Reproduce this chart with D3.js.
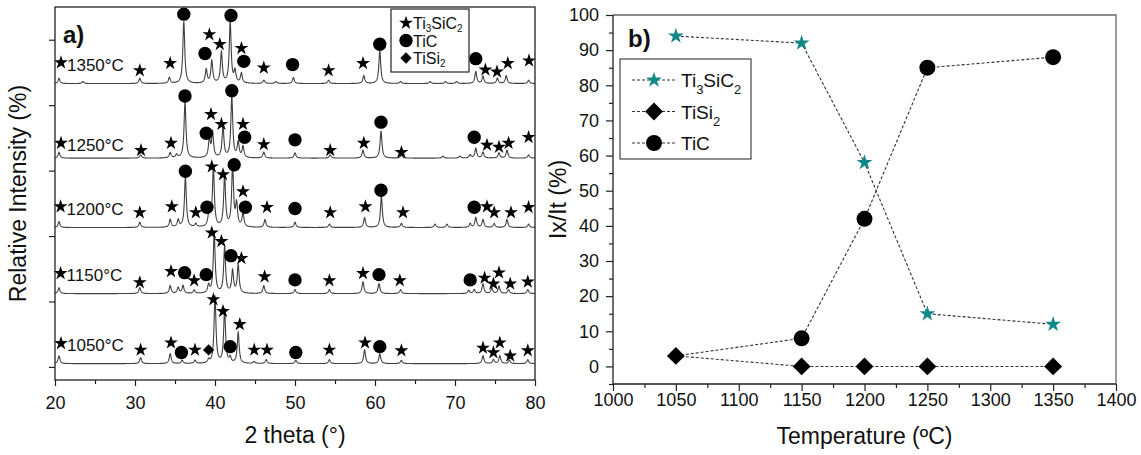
<!DOCTYPE html>
<html>
<head>
<meta charset="utf-8">
<script src="https://cdn.jsdelivr.net/npm/d3@7/dist/d3.min.js"></script>
<style>
  body { margin: 0; background: #fff; }
  svg { display: block; }
  text { font-family: "Liberation Sans", Arial, Helvetica, sans-serif; fill: #111; }
</style>
</head>
<body>
<svg id="fig" width="1141" height="455"></svg>
<script>
// ---------- a) XRD patterns: [2theta, peak height (a.u.)] ----------
const temperatureLabels = ["1050°C", "1150°C", "1200°C", "1250°C", "1350°C"];
const patternOffsets = [5, 112, 213, 319, 433];

const peaks1050 = [[20.5,12],[30.7,9],[34.4,15],[35.9,5],[37.5,5],[39.2,5],[40.0,103],[41.2,83],[41.9,8],
  [42.9,47],[44.9,3],[46.4,6],[50.1,5],[54.3,6],[58.7,21],[60.6,15],[63.3,5],[73.5,12],[74.8,6],[75.6,12],[76.8,5],[79.1,6]];
const peaks1150 = [[20.5,9],[30.6,9],[34.4,12],[35.4,9],[36.0,12],[37.4,5],[39.2,12],[39.9,92],[41.2,70],[42.2,34],
  [42.9,43],[46.1,12],[50.0,6],[54.3,6],[58.5,18],[60.5,15],[63.2,6],[71.7,5],[72.4,6],[73.5,15],[74.6,8],[75.5,11],[76.7,6],[79.1,6]];
const peaks1200 = [[20.5,9],[30.6,8],[34.4,12],[35.4,11],[36.3,77],[37.6,5],[39.3,32],[39.8,89],[41.2,77],[42.2,93],
  [42.7,34],[43.5,21],[46.25,12],[50.0,8],[54.3,5],[58.7,15],[60.8,47],[63.3,6],[67.5,5],[69.0,5],[71.9,6],[72.6,15],
  [73.5,12],[74.9,6],[76.5,12],[79.2,5]];
const peaks1250 = [[20.5,9],[30.7,5],[34.4,8],[35.2,5],[36.25,86],[39.3,28],[39.7,38],[41.0,47],[42.1,93],[42.9,23],
  [43.5,17],[46.1,9],[50.0,8],[54.4,5],[58.5,12],[60.75,41],[63.3,5],[68.5,3],[70.6,3],[71.9,5],[72.6,15],[73.5,9],
  [75.5,8],[76.5,12],[79.2,5]];
const peaks1350 = [[20.5,8],[23.5,3],[30.6,8],[34.3,9],[36.1,95],[38.9,21],[39.6,34],[40.8,47],[41.9,93],[42.5,18],
  [43.3,15],[46.1,5],[47.6,3],[49.8,9],[54.2,5],[58.6,12],[60.6,50],[63.2,3],[66.9,3],[68.8,3],[70.2,3],[72.6,18],
  [73.5,11],[75.3,8],[76.4,12],[79.2,5]];

// phase markers: [2theta, height above pattern baseline, phase]
// s = Ti3SiC2, c = TiC, d = TiSi2
const marks1050 = [[20.75,31,"s"],[30.7,21,"s"],[34.5,32,"s"],[35.8,17,"c"],[37.5,21,"s"],[39.2,21,"d"],[39.8,98,"s"],
  [41.0,80,"s"],[41.9,26,"c"],[43.1,60,"s"],[44.9,21,"s"],[46.5,21,"s"],[50.1,17,"c"],[54.3,21,"s"],[58.75,32,"s"],
  [60.6,26,"c"],[63.3,20,"s"],[73.5,24,"s"],[74.8,17,"s"],[75.6,32,"s"],[76.9,12,"s"],[79.1,20,"s"]];
const marks1150 = [[20.7,31,"s"],[30.6,17,"s"],[34.5,34,"s"],[36.2,32,"c"],[37.4,20,"s"],[38.9,29,"c"],[39.6,93,"s"],
  [40.8,80,"s"],[42.0,58,"c"],[43.3,54,"s"],[46.2,26,"s"],[50.0,21,"c"],[54.3,20,"s"],[58.5,31,"s"],[60.5,29,"c"],
  [63.1,20,"s"],[71.9,21,"c"],[73.7,24,"s"],[74.8,15,"s"],[75.5,32,"s"],[76.9,15,"s"],[79.1,18,"s"]];
const marks1200 = [[20.7,32,"s"],[30.6,23,"s"],[34.6,32,"s"],[36.3,86,"c"],[37.6,23,"s"],[39.0,31,"c"],[39.6,93,"s"],
  [41.0,81,"s"],[42.4,96,"c"],[43.5,55,"s"],[43.8,31,"c"],[46.5,31,"s"],[50.0,29,"c"],[54.4,23,"s"],[58.8,32,"s"],
  [60.75,57,"c"],[63.5,23,"s"],[72.4,31,"c"],[74.0,32,"s"],[74.9,23,"s"],[77.0,23,"s"],[79.2,31,"s"]];
const marks1250 = [[20.75,23,"s"],[30.75,12,"s"],[34.5,23,"s"],[36.25,95,"c"],[38.9,38,"c"],[39.5,67,"s"],[40.8,52,"s"],
  [42.1,103,"c"],[43.5,52,"s"],[43.7,32,"c"],[46.1,21,"s"],[50.0,28,"c"],[54.4,12,"s"],[58.6,23,"s"],[60.75,55,"c"],
  [63.3,9,"s"],[72.4,32,"c"],[74.0,20,"s"],[75.5,17,"s"],[76.7,23,"s"],[79.2,32,"s"]];
const marks1350 = [[20.75,32,"s"],[30.6,20,"s"],[34.4,31,"s"],[36.1,106,"c"],[38.75,46,"c"],[39.3,75,"s"],[40.6,60,"s"],
  [42.0,104,"c"],[43.3,54,"s"],[43.6,34,"c"],[46.1,24,"s"],[49.7,29,"c"],[54.2,20,"s"],[58.5,31,"s"],[60.6,60,"c"],
  [72.6,38,"c"],[73.8,21,"s"],[75.25,18,"s"],[76.6,31,"s"],[79.25,35,"s"]];

const xTicksA = [20, 30, 40, 50, 60, 70, 80];
const yTicksA = [0, 100, 200, 300, 400, 500];

// ---------- b) relative intensity vs temperature ----------
const temps = [1050, 1150, 1200, 1250, 1350];
const ti3sic2 = [94, 92, 58, 15, 12];
const tisi2 = [3, 0, 0, 0, 0];
const tic = [3, 8, 42, 85, 88];
const xTicksB = [1000, 1050, 1100, 1150, 1200, 1250, 1300, 1350, 1400];
const yTicksB = [0, 10, 20, 30, 40, 50, 60, 70, 80, 90, 100];

const TEAL = "#138888";
const svg = d3.select("#fig");

function symbolPath(kind, big) {
  if (kind === "s") return d3.symbol(d3.symbolStar, big ? 78 : 60)();
  if (kind === "c") return d3.symbol(d3.symbolCircle, big ? 200 : 140)();
  return d3.symbol(d3.symbolSquare, big ? 160 : 64)();
}
function drawMark(g, kind, x, y, big, color) {
  g.append("path")
    .attr("d", symbolPath(kind, big))
    .attr("transform", `translate(${x},${y})` + (kind === "d" ? " rotate(45)" : ""))
    .attr("fill", color || "#000");
}
// chemical formula with subscripts, built from tspans
function formula(textSel, parts, subSize, drop) {
  let lowered = false;
  parts.forEach(([s, sub]) => {
    const t = textSel.append("tspan").text(s);
    if (sub) { t.attr("font-size", subSize).attr("dy", drop); lowered = true; }
    else if (lowered) { t.attr("dy", -drop); lowered = false; }
  });
}

// ================= panel a =================
const A = { l: 55, r: 535, t: 7, b: 380 };
const xA = d3.scaleLinear().domain([20, 80]).range([A.l, A.r]);
const yA = d3.scaleLinear().domain([-20, 550]).range([A.b, A.t]);
const gA = svg.append("g");

svg.append("defs").append("clipPath").attr("id", "clipA")
  .append("rect").attr("x", A.l).attr("y", A.t).attr("width", A.r - A.l).attr("height", A.b - A.t);

const patterns = [
  { label: temperatureLabels[0], base: patternOffsets[0], peaks: peaks1050, marks: marks1050 },
  { label: temperatureLabels[1], base: patternOffsets[1], peaks: peaks1150, marks: marks1150 },
  { label: temperatureLabels[2], base: patternOffsets[2], peaks: peaks1200, marks: marks1200 },
  { label: temperatureLabels[3], base: patternOffsets[3], peaks: peaks1250, marks: marks1250 },
  { label: temperatureLabels[4], base: patternOffsets[4], peaks: peaks1350, marks: marks1350 }
];

// diffraction profile: sum of narrow Lorentzian reflections on a 2theta grid
function profile(peaks, base) {
  const pts = [];
  for (let i = 0; i <= 3000; i++) {
    const t = 20 + i * 0.02;
    let v = 0;
    for (const [p, h] of peaks) { const d = (t - p) / 0.14; v += h / (1 + d * d); }
    pts.push([t, base + v]);
  }
  return pts;
}
const traceLine = d3.line().x(d => xA(d[0])).y(d => yA(d[1]));

const traces = gA.append("g").attr("clip-path", "url(#clipA)");
patterns.forEach(p => {
  traces.append("path")
    .attr("d", traceLine(profile(p.peaks, p.base)))
    .attr("fill", "none").attr("stroke", "#404040").attr("stroke-width", 1.1);
});
patterns.forEach(p => {
  p.marks.forEach(([t, h, k]) => drawMark(gA, k, xA(t), yA(p.base + h), false));
  const first = p.marks[0];
  gA.append("text")
    .attr("x", xA(first[0]) + 6).attr("y", yA(p.base + first[1]) + 8)
    .attr("font-size", 17).text(p.label);
});

// axes
const axA = gA.append("g").attr("transform", `translate(0,${A.b})`)
  .call(d3.axisBottom(xA).tickValues(xTicksA).tickSize(6).tickSizeOuter(0).tickPadding(10).tickFormat(d3.format("d")));
const axAm = gA.append("g").attr("transform", `translate(0,${A.b})`)
  .call(d3.axisBottom(xA).tickValues(xTicksA.slice(0, -1).map(v => v + 5)).tickSize(4).tickFormat(""));
const ayA = gA.append("g").attr("transform", `translate(${A.l},0)`)
  .call(d3.axisLeft(yA).tickValues(yTicksA).tickSize(6).tickFormat(""));
[axA, axAm, ayA].forEach(g => {
  g.select(".domain").remove();
  g.selectAll("line").attr("stroke", "#222").attr("stroke-width", 1.2);
  g.selectAll("text").attr("font-size", 18).attr("fill", "#111");
});
gA.append("rect").attr("x", A.l).attr("y", A.t).attr("width", A.r - A.l).attr("height", A.b - A.t)
  .attr("fill", "none").attr("stroke", "#222").attr("stroke-width", 1.3);

gA.append("text").attr("x", 63).attr("y", 43).attr("font-size", 24).attr("font-weight", "bold").text("a)");
gA.append("text").attr("x", (A.l + A.r) / 2).attr("y", 443).attr("text-anchor", "middle")
  .attr("font-size", 23).text("2 theta (°)");
gA.append("text").attr("transform", `translate(26,${(A.t + A.b) / 2}) rotate(-90)`)
  .attr("text-anchor", "middle").attr("font-size", 23).text("Relative Intensity (%)");

// legend a
const legA = gA.append("g");
legA.append("rect").attr("x", 391).attr("y", 9).attr("width", 78).attr("height", 63)
  .attr("fill", "#fff").attr("stroke", "#222").attr("stroke-width", 1.2);
const legItemsA = [["s", [["Ti"], ["3", 1], ["SiC"], ["2", 1]]], ["c", [["TiC"]]], ["d", [["TiSi"], ["2", 1]]]];
legItemsA.forEach(([k, parts], i) => {
  const y = 23 + i * 17.5;
  drawMark(legA, k, 406, y, false);
  const t = legA.append("text").attr("x", 413).attr("y", y + 6).attr("font-size", 16);
  formula(t, parts, 10, 3);
});

// ================= panel b =================
const B = { l: 613, r: 1116, t: 15, b: 384 };
const xB = d3.scaleLinear().domain([1000, 1400]).range([B.l, B.r]);
const yB = d3.scaleLinear().domain([-5, 100]).range([B.b, B.t]);
const gB = svg.append("g");

const axB = gB.append("g").attr("transform", `translate(0,${B.b})`)
  .call(d3.axisBottom(xB).tickValues(xTicksB).tickSize(7).tickSizeOuter(0).tickPadding(2).tickFormat(d3.format("d")));
const axBm = gB.append("g").attr("transform", `translate(0,${B.b})`)
  .call(d3.axisBottom(xB).tickValues(xTicksB.slice(0, -1).map(v => v + 25)).tickSize(4).tickFormat(""));
const ayB = gB.append("g").attr("transform", `translate(${B.l},0)`)
  .call(d3.axisLeft(yB).tickValues(yTicksB).tickSize(7).tickSizeOuter(0).tickPadding(7).tickFormat(d3.format("d")));
const ayBm = gB.append("g").attr("transform", `translate(${B.l},0)`)
  .call(d3.axisLeft(yB).tickValues(yTicksB.map(v => v - 5)).tickSize(4).tickFormat(""));
[axB, axBm, ayB, ayBm].forEach(g => {
  g.select(".domain").remove();
  g.selectAll("line").attr("stroke", "#222").attr("stroke-width", 1.2);
  g.selectAll("text").attr("font-size", 18).attr("fill", "#111");
});
// frame: left/bottom axes dark, top/right lighter
gB.append("path").attr("d", `M${B.l},${B.t}H${B.r}V${B.b}`).attr("fill", "none").attr("stroke", "#666").attr("stroke-width", 1.3);
gB.append("path").attr("d", `M${B.l},${B.t}V${B.b}H${B.r}`).attr("fill", "none").attr("stroke", "#222").attr("stroke-width", 1.3);

const series = [
  { name: "TiC", values: tic, kind: "c", color: "#000" },
  { name: "TiSi2", values: tisi2, kind: "d", color: "#000" },
  { name: "Ti3SiC2", values: ti3sic2, kind: "s", color: TEAL }
];
const lineB = d3.line().x((d, i) => xB(temps[i])).y(d => yB(d));
series.forEach(s => {
  gB.append("path").attr("d", lineB(s.values)).attr("fill", "none")
    .attr("stroke", "#333").attr("stroke-width", 1.1).attr("stroke-dasharray", "3,2");
});
// markers: where a TiC point coincides with a TiSi2 point, the diamond sits on top alone
series.forEach(s => {
  s.values.forEach((v, i) => {
    if (s.kind === "c" && tisi2[i] === v) return;
    drawMark(gB, s.kind, xB(temps[i]), yB(v), true, s.color);
  });
});

gB.append("text").attr("x", 628).attr("y", 47).attr("font-size", 24).attr("font-weight", "bold").text("b)");
gB.append("text").attr("x", (B.l + B.r) / 2).attr("y", 444).attr("text-anchor", "middle")
  .attr("font-size", 23).text("Temperature (ºC)");
gB.append("text").attr("transform", `translate(566,${(B.t + B.b) / 2}) rotate(-90)`)
  .attr("text-anchor", "middle").attr("font-size", 23).text("Ix/It (%)");

// legend b
const legB = gB.append("g");
legB.append("rect").attr("x", 620).attr("y", 59).attr("width", 131).attr("height", 100)
  .attr("fill", "#fff").attr("stroke", "#444").attr("stroke-width", 1.2);
const legItemsB = [
  ["s", TEAL, [["Ti"], ["3", 1], ["SiC"], ["2", 1]]],
  ["d", "#000", [["TiSi"], ["2", 1]]],
  ["c", "#000", [["TiC"]]]
];
legItemsB.forEach(([k, col, parts], i) => {
  const y = 80 + i * 31.5;
  legB.append("line").attr("x1", 632).attr("x2", 676).attr("y1", y).attr("y2", y)
    .attr("stroke", "#333").attr("stroke-width", 1.1).attr("stroke-dasharray", "3,2");
  drawMark(legB, k, 654, y, true, col);
  const t = legB.append("text").attr("x", 681).attr("y", y + 7).attr("font-size", 19);
  formula(t, parts, 13, 7);
});
</script>
</body>
</html>
